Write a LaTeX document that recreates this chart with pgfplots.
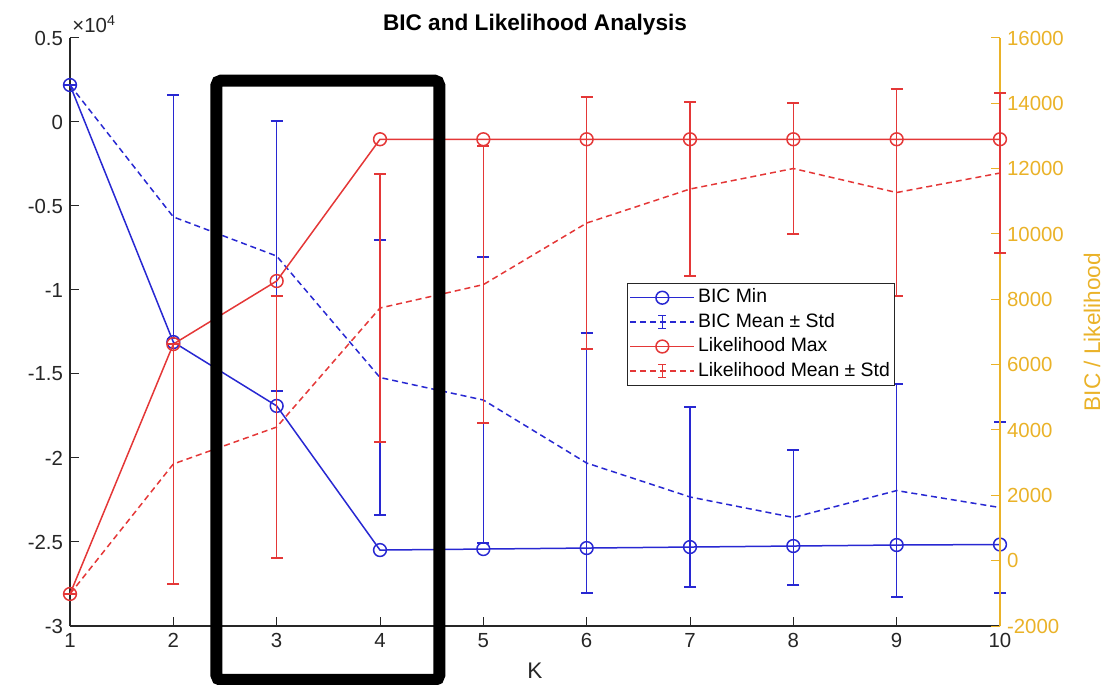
\documentclass[border=0pt]{standalone}
\usepackage{pgfplots}
\pgfplotsset{compat=1.18}
\usepackage{pgfplotstable}
\usepackage{fontspec}
\setmainfont{Liberation Sans}

\definecolor{bicblue}{RGB}{40,40,210}
\definecolor{likred}{RGB}{228,55,55}
\definecolor{axyellow}{RGB}{234,178,40}
\definecolor{axgrey}{RGB}{38,38,38}

\pgfplotstableread{
K val
1 2200
2 -13100
3 -16900
4 -25480
5 -25420
6 -25360
7 -25300
8 -25240
9 -25180
10 -25150
}\bicmin

\pgfplotstableread{
K mean std
1 2200 0
2 -5650 7250
3 -7980 8040
4 -15210 8190
5 -16550 8510
6 -20300 7740
7 -22320 5360
8 -23540 4020
9 -21940 6340
10 -22950 5090
}\bicmean

\pgfplotstableread{
K val
1 -1020
2 6630
3 8560
4 12900
5 12900
6 12900
7 12900
8 12900
9 12900
10 12900
}\likmax

\pgfplotstableread{
K mean std
1 -1020 0
2 2960 3670
3 4090 4010
4 7734 4100
5 8450 4240
6 10335 3860
7 11376 2663
8 12004 2005
9 11269 3168
10 11866 2449
}\likmean

\pgfplotsset{
  base/.style={
    at={(0,0)}, anchor=south west, scale only axis, width=465pt, height=294pt,
    xmin=1, xmax=10, clip=false,
    tick align=inside, major tick length=4.5pt,
    /pgf/number format/assume math mode=true,
    /pgf/number format/1000 sep={},
    ticklabel style={font=\fontsize{10.2}{12}\selectfont},
  },
  ebarleg/.style={legend image code/.code={
    \draw[##1] (0pt,0pt) -- (32pt,0pt);
    \draw[##1, solid] (16pt,-3.3pt) -- (16pt,3.3pt) (14pt,3.3pt) -- (18pt,3.3pt) (14pt,-3.3pt) -- (18pt,-3.3pt);}},
  ebars/.style={error bars/.cd, y dir=both, y explicit,
    error bar style={solid, line width=0.75pt, draw=#1},
    error mark options={solid, line width=0.75pt, mark size=3pt, rotate=90, draw=#1}, /pgfplots/.cd},
}

\begin{document}
\begin{tikzpicture}
\begin{axis}[base,
  ymin=-30000, ymax=5000,
  axis x line*=bottom, axis y line*=left,
  xtick={1,...,10},
  ytick={-30000,-25000,-20000,-15000,-10000,-5000,0,5000},
  yticklabels={-3,-2.5,-2,-1.5,-1,-0.5,0,0.5},
  scaled y ticks=false,
  axis line style={axgrey, line width=0.6pt},
  tick style={axgrey, line width=0.5pt},
  ticklabel style={text=axgrey},
  xlabel={K},
  every axis x label/.style={at={(rel axis cs:0.5,0)}, anchor=base, yshift=-26pt, font=\fontsize{11.3}{13}\selectfont, text=axgrey},
  title={BIC and Likelihood Analysis},
  every axis title/.style={at={(rel axis cs:0.5,1)}, anchor=base, yshift=3.5pt, font=\bfseries\fontsize{11.3}{13}\selectfont, text=black},
]
\addplot[bicblue, line width=0.75pt, dash pattern=on 3pt off 2pt, ebars=bicblue] table[x=K, y=mean, y error=std] {\bicmean};
\addplot[bicblue, line width=0.75pt, mark=o, mark size=3.2pt] table[x=K, y=val] {\bicmin};
\node[anchor=base west, inner sep=0pt, xshift=1pt, yshift=2.5pt, font=\fontsize{10.2}{12}\selectfont, text=axgrey] at (rel axis cs:0,1) {×10\textsuperscript{4}};
\end{axis}

\begin{axis}[base,
  ymin=-2000, ymax=16000,
  axis x line=none, axis y line*=right,
  ytick={-2000,0,2000,4000,6000,8000,10000,12000,14000,16000},
  scaled y ticks=false,
  axis line style={axyellow, line width=0.6pt},
  ytick style={axyellow, line width=0.5pt},
  yticklabel style={text=axyellow},
  ylabel={BIC / Likelihood},
  every axis y label/.style={at={(rel axis cs:1,0.5)}, rotate=90, anchor=center, yshift=-46pt, font=\fontsize{11.3}{13}\selectfont, text=axyellow},
  legend style={at={(rel axis cs:0.599,0.5833)}, anchor=north west, draw=axgrey, line width=0.5pt, fill=white,
    font=\fontsize{9.7}{11}\selectfont, inner xsep=1pt, inner ysep=1pt, row sep=0pt,
    nodes={inner sep=1.5pt, text height=0.72em, text depth=0.2em}},
  legend cell align=left,
  legend image code/.code={\draw[mark repeat=2, mark phase=2, #1] plot coordinates {(0pt,0pt) (16pt,0pt) (32pt,0pt)};},
]
\addplot[likred, line width=0.75pt, dash pattern=on 3pt off 2pt, forget plot, ebars=likred] table[x=K, y=mean, y error=std] {\likmean};
\addplot[likred, line width=0.75pt, mark=o, mark size=3.2pt, forget plot] table[x=K, y=val] {\likmax};

\addlegendimage{bicblue, line width=0.75pt, mark=o, mark size=3.2pt}
\addlegendentry{BIC Min}
\addlegendimage{bicblue, line width=0.75pt, dash pattern=on 3pt off 2pt, ebarleg}
\addlegendentry{BIC Mean ± Std}
\addlegendimage{likred, line width=0.75pt, mark=o, mark size=3.2pt}
\addlegendentry{Likelihood Max}
\addlegendimage{likred, line width=0.75pt, dash pattern=on 3pt off 2pt, ebarleg}
\addlegendentry{Likelihood Mean ± Std}

\draw[black, line width=6pt, rounded corners=2.5pt] (rel axis cs:0.1574,0.9277) rectangle (rel axis cs:0.3971,-0.0918);
\end{axis}
\pgfresetboundingbox
\useasboundingbox (-35pt,-29.5pt) rectangle (524.5pt,313pt);
\end{tikzpicture}
\end{document}
